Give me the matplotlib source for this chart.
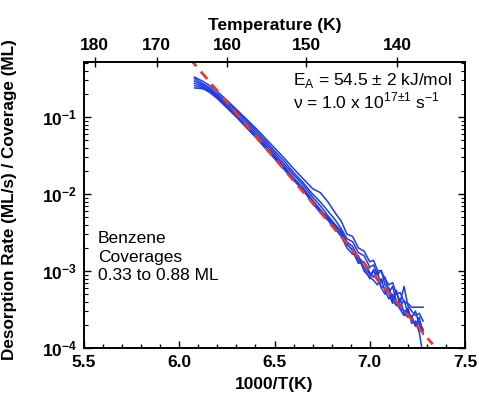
import numpy as np
import matplotlib
matplotlib.use("Agg")
import matplotlib.pyplot as plt
from matplotlib.ticker import MultipleLocator, LogLocator, NullFormatter, FixedLocator, FuncFormatter

plt.rcParams['font.family'] = ['Liberation Sans', 'DejaVu Sans']
plt.rcParams['mathtext.fontset'] = 'custom'
plt.rcParams['mathtext.rm'] = 'Liberation Sans'
plt.rcParams['mathtext.bf'] = 'Liberation Sans:bold'

# ---- data ----
inv_T = [6.08, 6.12, 6.16, 6.20, 6.25, 6.30, 6.35, 6.40, 6.45, 6.50, 6.55, 6.60,
         6.65, 6.70, 6.74, 6.78, 6.82, 6.85, 6.88, 6.91, 6.94, 6.97, 7.00, 7.02,
         7.04, 7.06, 7.08, 7.10, 7.12, 7.14, 7.16, 7.18, 7.20, 7.22, 7.24, 7.26, 7.28]

log_rate_1 = [-0.48, -0.53, -0.59, -0.67, -0.78, -0.90, -1.02, -1.14, -1.27, -1.40, -1.53, -1.67,
              -1.80, -1.93, -1.98, -2.10, -2.25, -2.35, -2.52, -2.55, -2.70, -2.74, -2.88, -2.86,
              -2.99, -3.00, -3.10, -3.18, -3.15, -3.30, -3.28, -3.40, -3.42, -3.47, -3.47, -3.47, -3.47]
log_rate_2 = [-0.50, -0.56, -0.62, -0.70, -0.80, -0.92, -1.04, -1.17, -1.30, -1.44, -1.57, -1.72,
              -1.85, -2.00, -2.10, -2.22, -2.34, -2.45, -2.58, -2.62, -2.76, -2.80, -2.95, -2.92,
              -3.05, -2.99, -3.18, -3.22, -3.35, -3.28, -3.40, -3.20, -3.45, -3.52, -3.58, -3.55, -3.65]
log_rate_3 = [-0.53, -0.58, -0.64, -0.72, -0.83, -0.95, -1.07, -1.20, -1.33, -1.47, -1.61, -1.75,
              -1.88, -2.04, -2.15, -2.28, -2.40, -2.48, -2.62, -2.68, -2.82, -2.90, -3.05, -3.00,
              -3.10, -3.15, -3.08, -3.28, -3.20, -3.40, -3.45, -3.38, -3.55, -3.60, -3.52, -3.70, -3.78]
log_rate_4 = [-0.56, -0.60, -0.66, -0.74, -0.85, -0.98, -1.10, -1.23, -1.36, -1.50, -1.64, -1.79,
              -1.92, -2.08, -2.20, -2.32, -2.44, -2.50, -2.66, -2.72, -2.86, -2.95, -3.10, -2.98,
              -3.12, -3.20, -3.22, -3.30, -3.42, -3.25, -3.48, -3.52, -3.50, -3.62, -3.70, -3.60, -3.82]
log_rate_5 = [-0.59, -0.62, -0.68, -0.76, -0.88, -1.00, -1.13, -1.26, -1.40, -1.54, -1.68, -1.82,
              -1.95, -2.12, -2.24, -2.34, -2.46, -2.55, -2.70, -2.78, -2.80, -3.00, -3.08, -3.12,
              -3.18, -3.10, -3.26, -3.36, -3.30, -3.42, -3.50, -3.58, -3.48, -3.68, -3.65, -3.80, -4.10]
log_rate_6 = [-0.62, -0.63, -0.66, -0.74, -0.86, -0.99, -1.12, -1.25, -1.38, -1.52, -1.66, -1.80,
              -1.93, -2.10, -2.22, -2.30, -2.42, -2.52, -2.64, -2.74, -2.90, -2.88, -3.02, -3.08,
              -3.00, -3.22, -3.30, -3.25, -3.38, -3.45, -3.36, -3.55, -3.60, -3.58, -3.72, -3.66, -3.76]
curves = [log_rate_1, log_rate_2, log_rate_3, log_rate_4, log_rate_5, log_rate_6]

fit_x = [6.0, 7.33]
fit_y = [0.835, 1.12e-4]

temp_ticks = [180, 170, 160, 150, 140]

# ---- figure ----
fig = plt.figure(figsize=(4.79, 3.96), dpi=100)
ax = fig.add_axes([0.1754, 0.1212, 0.7954, 0.7222])

blue = '#1c3be6'
red = '#e8392c'
for c in curves:
    ax.plot(inv_T, np.power(10.0, c), color=blue, lw=1.1)
ax.plot(fit_x, fit_y, color=red, lw=2.0, dashes=(3.5, 2.5))

ax.set_yscale('log')
ax.set_xlim(5.5, 7.5)
ax.set_ylim(1e-4, 0.52)

ax.set_xticks([5.5, 6.0, 6.5, 7.0, 7.5])
ax.set_xticklabels(['5.5', '6.0', '6.5', '7.0', '7.5'])
ax.xaxis.set_minor_locator(MultipleLocator(0.1))
ax.yaxis.set_major_locator(LogLocator(base=10, numticks=10))
ax.yaxis.set_minor_locator(LogLocator(base=10, subs=np.arange(2, 10), numticks=10))
ax.yaxis.set_minor_formatter(NullFormatter())
ax.yaxis.set_major_formatter(FuncFormatter(
    lambda v, p: r'$\mathbf{10^{%d}}$' % int(round(np.log10(v)))))

ax.tick_params(axis='x', which='major', direction='in', length=5, width=1, top=False,
               labelsize=12.5, pad=5)
ax.tick_params(axis='x', which='minor', direction='in', length=3, width=1, top=False)
ax.tick_params(axis='y', which='major', direction='in', length=5, width=1, right=True,
               labelsize=12.5, pad=5)
ax.tick_params(axis='y', which='minor', direction='in', length=3, width=0.8, right=True)
for lab in ax.get_xticklabels():
    lab.set_fontweight('bold')

for s in ax.spines.values():
    s.set_linewidth(1.2)

ax.set_xlabel('1000/T(K)', fontsize=12.5, fontweight='bold', labelpad=5)
ax.set_ylabel('Desorption Rate (ML/s) / Coverage (ML)', fontsize=12.3, fontweight='bold')
ax.yaxis.set_label_coords(-0.175, 0.52)

# top temperature axis
ax2 = ax.twiny()
ax2.set_xlim(ax.get_xlim())
ax2.xaxis.set_major_locator(FixedLocator([1000.0 / t for t in temp_ticks]))
ax2.set_xticklabels([str(t) for t in temp_ticks], fontsize=12.5, fontweight='bold')
ax2.tick_params(axis='x', which='major', direction='inout', length=7, width=1, pad=3)
ax2.set_xlabel('Temperature (K)', fontsize=12.5, fontweight='bold', labelpad=6)
for s in ax2.spines.values():
    s.set_linewidth(1.2)

ax.text(0.549, 0.935, r'E$_{\mathregular{A}}$ = 54.5 ± 2 kJ/mol', transform=ax.transAxes,
        fontsize=12.5, va='center', ha='left')
ax.text(0.549, 0.865, r'ν = 1.0 x 10$^{\mathregular{17±1}}$ s$^{\mathregular{-1}}$',
        transform=ax.transAxes, fontsize=12.5, va='center', ha='left')
ax.text(0.037, 0.318, 'Benzene\nCoverages\n0.33 to 0.88 ML', transform=ax.transAxes,
        fontsize=12.5, va='center', ha='left', linespacing=1.32)

fig.savefig('out.png', dpi=100)
